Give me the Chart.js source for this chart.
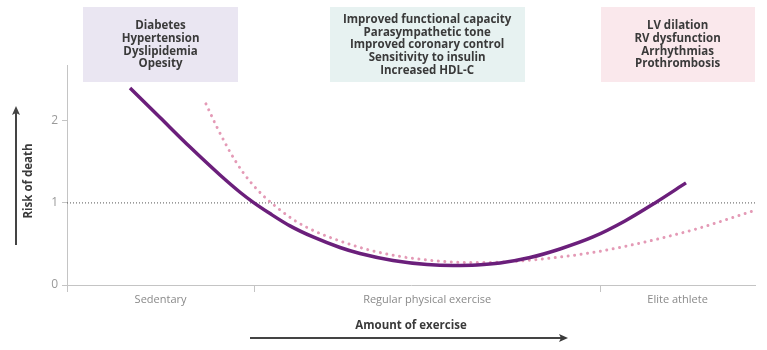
<!DOCTYPE html>
<html>
<head>
<meta charset="utf-8">
<script src="https://cdn.jsdelivr.net/npm/chart.js@4/dist/chart.umd.min.js"></script>
<style>
  html, body { margin: 0; padding: 0; background: #ffffff; }
  #wrap { width: 767px; height: 350px; position: relative; }
</style>
</head>
<body>
<div id="wrap"><canvas id="c"></canvas></div>
<script>
// ---- Data ----
const zoneEdges = [0, 27.2, 77.5, 100];
const zoneLabels = ['Sedentary', 'Regular physical exercise', 'Elite athlete'];
const yTicks = [0, 1, 2];
const referenceLevel = 1;

const trainedX = [9.16, 13.52, 17.88, 22.24, 25.15, 27.03, 29.51, 32.41, 35.76, 39.68, 42.59, 47.38, 52.33, 56.10, 59.59, 62.94, 67.30, 71.66, 76.45, 81.10, 85.47, 89.97];
const trainedY = [2.40, 2.04, 1.68, 1.34, 1.13, 1.01, 0.87, 0.72, 0.585, 0.457, 0.384, 0.299, 0.250, 0.238, 0.244, 0.268, 0.335, 0.439, 0.585, 0.780, 1.00, 1.244];

const altX = [20.20, 21.08, 21.95, 22.82, 23.69, 24.56, 25.58, 26.60, 27.62, 28.78, 29.80, 30.96, 32.85, 34.88, 36.77, 39.24, 41.86, 44.48, 48.40, 52.33, 56.10, 60.03, 64.83, 69.77, 76.45, 81.40, 86.19, 91.72, 99.71];
const altY = [2.207, 2.049, 1.896, 1.756, 1.622, 1.500, 1.372, 1.262, 1.165, 1.067, 0.994, 0.915, 0.799, 0.701, 0.628, 0.549, 0.476, 0.415, 0.348, 0.305, 0.280, 0.274, 0.287, 0.323, 0.396, 0.476, 0.567, 0.689, 0.902];

const boxTexts = [
  ['Diabetes', 'Hypertension', 'Dyslipidemia', 'Opesity'],
  ['Improved functional capacity', 'Parasympathetic tone', 'Improved coronary control', 'Sensitivity to insulin', 'Increased HDL-C'],
  ['LV dilation', 'RV dysfunction', 'Arrhythmias', 'Prothrombosis']
];
const yTitle = 'Risk of death';
const xTitle = 'Amount of exercise';

// ---- Derived ----
const zoneMids = zoneLabels.map((_, i) => (zoneEdges[i] + zoneEdges[i + 1]) / 2);
const xTickValues = [zoneEdges[0], zoneMids[0], zoneEdges[1], zoneMids[1], zoneEdges[2], zoneMids[2]];
const pts = (xs, ys) => xs.map((x, i) => ({ x: x, y: ys[i] }));

const FONT = "'Open Sans', 'DejaVu Sans', sans-serif";

// styling for annotation boxes (pixel sizes)
const boxStyle = [
  { w: 155, fill: '#eae6f2' },
  { w: 195, fill: '#e7f2f1' },
  { w: 154, fill: '#fae8ec' }
];

const decorPlugin = {
  id: 'decor',
  afterDatasetsDraw(chart) {
    const ctx = chart.ctx;
    const xs = chart.scales.x;
    const ca = chart.chartArea;
    ctx.save();
    // boxes
    const top = 7, bottom = 82;
    boxTexts.forEach((lines, i) => {
      const cx = xs.getPixelForValue(zoneMids[i]);
      const w = boxStyle[i].w;
      ctx.fillStyle = boxStyle[i].fill;
      ctx.fillRect(Math.round(cx - w / 2), top, w, bottom - top);
      ctx.fillStyle = '#3a3a3a';
      ctx.font = "bold 11.5px " + FONT;
      ctx.textAlign = 'center';
      ctx.textBaseline = 'middle';
      const lh = 12.7;
      const cy = (top + bottom) / 2 + 0.5;
      const y0 = cy - (lines.length - 1) * lh / 2;
      lines.forEach((t, k) => ctx.fillText(t, cx, y0 + k * lh));
    });

    // y title + arrow
    const yc = (ca.top + ca.bottom) / 2;
    ctx.save();
    ctx.translate(29, yc + 6);
    ctx.rotate(-Math.PI / 2);
    ctx.fillStyle = '#3a3a3a';
    ctx.font = "bold 11.5px " + FONT;
    ctx.textAlign = 'center';
    ctx.textBaseline = 'middle';
    ctx.fillText(yTitle, 0, 0);
    ctx.restore();

    ctx.strokeStyle = '#444';
    ctx.fillStyle = '#444';
    ctx.lineWidth = 2;
    ctx.beginPath();
    ctx.moveTo(16, 245);
    ctx.lineTo(16, 112);
    ctx.stroke();
    ctx.beginPath();
    ctx.moveTo(16, 106);
    ctx.lineTo(12, 115);
    ctx.lineTo(16, 113);
    ctx.lineTo(20, 115);
    ctx.closePath();
    ctx.fill();

    // x title + arrow
    const xc = (ca.left + ca.right) / 2;
    ctx.fillStyle = '#3a3a3a';
    ctx.font = "bold 11.5px " + FONT;
    ctx.textAlign = 'center';
    ctx.textBaseline = 'middle';
    ctx.fillText(xTitle, xc, 326);

    ctx.beginPath();
    ctx.moveTo(250, 338);
    ctx.lineTo(562, 338);
    ctx.stroke();
    ctx.beginPath();
    ctx.moveTo(568, 338);
    ctx.lineTo(559, 334);
    ctx.lineTo(561, 338);
    ctx.lineTo(559, 342);
    ctx.closePath();
    ctx.fill();
    ctx.restore();
  }
};

new Chart(document.getElementById('c'), {
  type: 'line',
  data: {
    datasets: [
      {
        label: 'Trained',
        data: pts(trainedX, trainedY),
        borderColor: '#6b1f7b',
        borderWidth: 3.5,
        pointRadius: 0,
        cubicInterpolationMode: 'monotone',
        borderCapStyle: 'butt',
        fill: false
      },
      {
        label: 'Alternative',
        data: pts(altX, altY),
        borderColor: '#e49ab6',
        borderWidth: 3,
        borderDash: [0.01, 6.5],
        borderCapStyle: 'round',
        pointRadius: 0,
        cubicInterpolationMode: 'monotone',
        fill: false
      },
      {
        label: 'Reference',
        data: [{ x: zoneEdges[0], y: referenceLevel }, { x: zoneEdges[3], y: referenceLevel }],
        borderColor: '#555555',
        borderWidth: 1,
        borderDash: [1, 2],
        pointRadius: 0,
        fill: false
      }
    ]
  },
  options: {
    responsive: true,
    maintainAspectRatio: false,
    animation: false,
    events: [],
    layout: { padding: { left: 0, right: 12, top: 65, bottom: 0 } },
    plugins: { legend: { display: false }, tooltip: { enabled: false } },
    scales: {
      x: {
        type: 'linear',
        min: zoneEdges[0],
        max: zoneEdges[3],
        afterBuildTicks: s => { s.ticks = xTickValues.map(v => ({ value: v })); },
        afterFit: s => { s.height = 65; },
        grid: {
          drawOnChartArea: false,
          tickLength: 7,
          tickColor: c => (c.tick && zoneMids.includes(c.tick.value)) ? 'rgba(0,0,0,0)' : '#c4c4c4',
          color: '#c4c4c4'
        },
        border: { color: '#c4c4c4' },
        ticks: {
          autoSkip: false,
          maxRotation: 0,
          padding: 1,
          color: '#8a8a8a',
          font: { family: FONT, size: 11 },
          callback: v => {
            const i = zoneMids.indexOf(v);
            return i >= 0 ? zoneLabels[i] : '';
          }
        }
      },
      y: {
        type: 'linear',
        min: 0,
        max: 2.68,
        afterBuildTicks: s => { s.ticks = yTicks.map(v => ({ value: v })); },
        afterFit: s => { s.width = 67; },
        grid: { drawOnChartArea: false, tickLength: 5, color: '#c4c4c4' },
        border: { color: '#c4c4c4' },
        ticks: { color: '#9a9a9a', padding: 4, font: { family: FONT, size: 12 } }
      }
    }
  },
  plugins: [decorPlugin]
});
</script>
</body>
</html>
